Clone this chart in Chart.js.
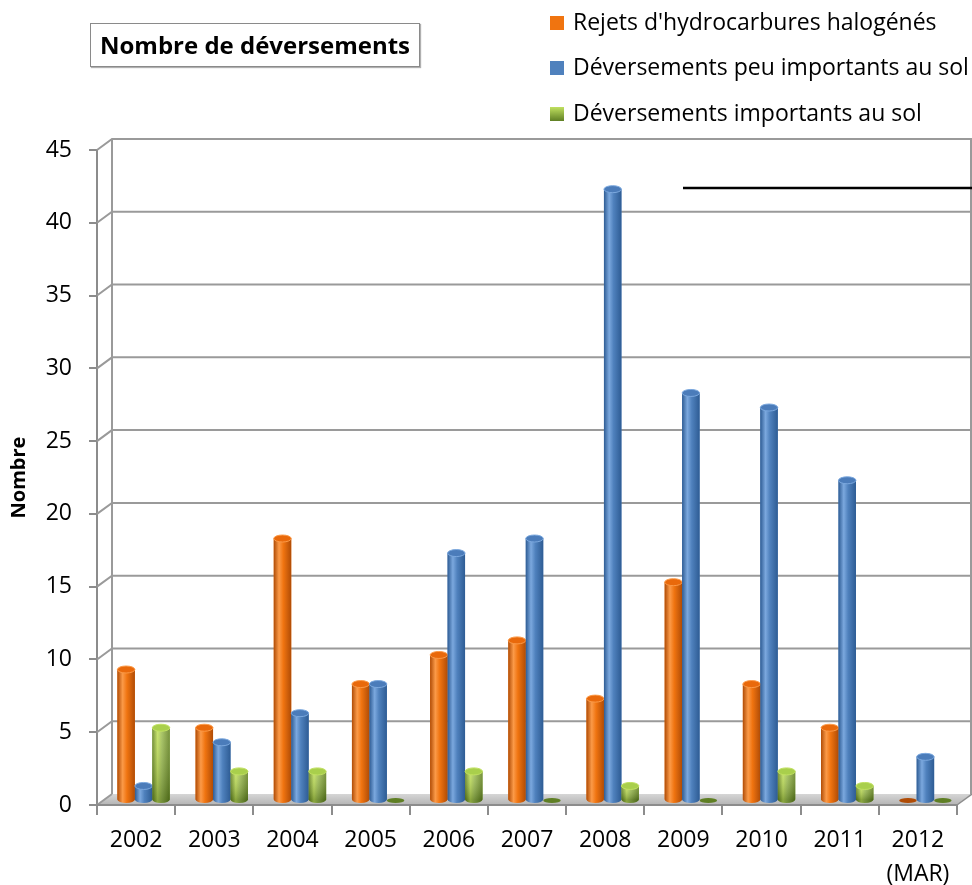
<!DOCTYPE html>
<html>
<head>
<meta charset="utf-8">
<title>Nombre de déversements</title>
<script src="https://cdn.jsdelivr.net/npm/chart.js@4.4.1/dist/chart.umd.min.js"></script>
<style>
  html, body { margin: 0; padding: 0; background: #fff; }
  #wrap { position: relative; width: 972px; height: 885px; font-family: "Open Sans", sans-serif; overflow: hidden; }
  #graph { position: absolute; left: 0; top: 0; }
  #titre {
    position: absolute; left: 90px; top: 23px; width: 328px; height: 42px;
    border: 1.5px solid #8a8a8a; box-shadow: 1px 1px 1px #b0b0b0;
    font-weight: bold; font-size: 24px; line-height: 42px; text-align: center; color: #000;
  }
  .voce { position: absolute; left: 550px; height: 30px; line-height: 30px; font-size: 23px; white-space: nowrap; color: #000; }
  .voce span { display: inline-block; width: 14px; height: 14px; margin-right: 9px; vertical-align: 0px; }
</style>
</head>
<body>
<div id="wrap">
  <canvas id="graph" width="972" height="885"></canvas>
  <div id="titre">Nombre de déversements</div>
  <div id="legende"></div>
</div>
<script>
// annees (la derniere jusqu'en mars)
var annees = ["2002", "2003", "2004", "2005", "2006", "2007", "2008", "2009", "2010", "2011", ["2012", "(MAR)"]];

// nombre de deversements par type
var rejetsHalogenes = [9, 5, 18, 8, 10, 11, 7, 15, 8, 5, 0];
var deversementsPeuImportants = [1, 4, 6, 8, 17, 18, 42, 28, 27, 22, 3];
var deversementsImportants = [5, 2, 2, 0, 2, 0, 1, 0, 2, 1, 0];

var nomsSeries = [
  "Rejets d'hydrocarbures halogénés",
  "Déversements peu importants au sol",
  "Déversements importants au sol"
];

var yMax = 45;
var yPas = 5;

// couleurs des cylindres : base, sombre, clair, dessus
var palettes = [
  { base: "#f07410", sombre: "#b04c06", clair: "#fb9a48", dessus: "#e9690b" },
  { base: "#4f81bd", sombre: "#2e5c94", clair: "#7ba8de", dessus: "#4b7cba" },
  { base: "#9bbb59", sombre: "#5f7f24", clair: "#c0e060", dessus: "#a9cf4c" }
];

// profondeur de la boite 3D
var profX = 15;
var profY = -11;
var grisAxe = "#8c8c8c";
var police = "'Open Sans'";

function dessinerCylindre(ctx, x, haut, bas, w, pal, vert) {
  var g = w / 2;
  var ry = 3.5;
  if (bas - haut < 0.5) {
    ctx.fillStyle = pal.sombre;
    ctx.beginPath();
    ctx.ellipse(x, bas, g, ry - 1, 0, 0, Math.PI * 2);
    ctx.fill();
    return;
  }
  var grad = ctx.createLinearGradient(x - g, 0, x + g, 0);
  grad.addColorStop(0, pal.sombre);
  grad.addColorStop(0.3, pal.clair);
  grad.addColorStop(0.55, pal.base);
  grad.addColorStop(1, pal.sombre);
  ctx.fillStyle = grad;
  ctx.beginPath();
  ctx.moveTo(x - g, haut);
  ctx.lineTo(x - g, bas);
  ctx.ellipse(x, bas, g, ry, 0, Math.PI, 0, true);
  ctx.lineTo(x + g, haut);
  ctx.closePath();
  ctx.fill();
  if (vert) {
    // les verts s'assombrissent vers le bas
    var gv = ctx.createLinearGradient(0, haut, 0, bas);
    gv.addColorStop(0, "rgba(255,255,200,0.15)");
    gv.addColorStop(1, "rgba(40,60,0,0.35)");
    ctx.fillStyle = gv;
    ctx.fill();
  }
  ctx.fillStyle = pal.dessus;
  ctx.strokeStyle = pal.clair;
  ctx.lineWidth = 1;
  ctx.beginPath();
  ctx.ellipse(x, haut, g, ry, 0, 0, Math.PI * 2);
  ctx.fill();
  ctx.stroke();
}

var boite3d = {
  id: "boite3d",
  beforeDatasetsDraw: function(chart) {
    var ctx = chart.ctx;
    var a = chart.chartArea;
    var yScale = chart.scales.y;
    ctx.save();
    // sol
    var sol = ctx.createLinearGradient(0, a.bottom + profY, 0, a.bottom);
    sol.addColorStop(0, "#d6d6d6");
    sol.addColorStop(1, "#b4b4b4");
    ctx.fillStyle = sol;
    ctx.beginPath();
    ctx.moveTo(a.left, a.bottom);
    ctx.lineTo(a.right, a.bottom);
    ctx.lineTo(a.right + profX, a.bottom + profY);
    ctx.lineTo(a.left + profX, a.bottom + profY);
    ctx.closePath();
    ctx.fill();
    ctx.strokeStyle = grisAxe;
    ctx.lineWidth = 1.5;
    ctx.beginPath();
    ctx.moveTo(a.right, a.bottom);
    ctx.lineTo(a.right + profX, a.bottom + profY);
    ctx.stroke();
    // quadrillage du mur du fond
    ctx.strokeStyle = "#9a9a9a";
    ctx.lineWidth = 2;
    ctx.beginPath();
    for (var v = 0; v <= yMax; v += yPas) {
      var yp = yScale.getPixelForValue(v);
      ctx.moveTo(a.left, yp);
      ctx.lineTo(a.left + profX, yp + profY);
      if (v > 0) ctx.lineTo(a.right + profX, yp + profY);
    }
    ctx.moveTo(a.left + profX, a.top + profY);
    ctx.lineTo(a.left + profX, a.bottom + profY);
    ctx.moveTo(a.right + profX - 1, a.top + profY);
    ctx.lineTo(a.right + profX - 1, a.bottom + profY);
    ctx.stroke();
    ctx.strokeStyle = grisAxe;
    ctx.beginPath();
    ctx.moveTo(a.left, a.bottom);
    ctx.lineTo(a.right, a.bottom);
    ctx.stroke();
    ctx.restore();
    // barres au milieu de la profondeur
    ctx.save();
    ctx.translate(profX / 2, profY / 2 + 1);
  },
  afterDatasetsDraw: function(chart) {
    var ctx = chart.ctx;
    chart.data.datasets.forEach(function(ds, i) {
      var meta = chart.getDatasetMeta(i);
      meta.data.forEach(function(bar) {
        var p = bar.getProps(["x", "y", "base", "width"], true);
        dessinerCylindre(ctx, p.x, p.y, p.base, p.width, palettes[i], i === 2);
      });
    });
    ctx.restore();
  },
  afterDraw: function(chart) {
    // trait noir en haut a droite
    var ctx = chart.ctx;
    ctx.save();
    ctx.strokeStyle = "#000";
    ctx.lineWidth = 2.5;
    ctx.beginPath();
    ctx.moveTo(683, 188);
    ctx.lineTo(chart.width, 188);
    ctx.stroke();
    ctx.restore();
  }
};

var series = [rejetsHalogenes, deversementsPeuImportants, deversementsImportants];

var ctxGraph = document.getElementById("graph");
var graphique = new Chart(ctxGraph, {
  type: "bar",
  data: {
    labels: annees,
    datasets: series.map(function(valeurs, i) {
      return {
        label: nomsSeries[i],
        data: valeurs,
        backgroundColor: palettes[i].base,
        borderWidth: 0,
        categoryPercentage: 0.67,
        barPercentage: 1.0
      };
    })
  },
  options: {
    responsive: false,
    animation: false,
    layout: { padding: { top: 150, right: 15, left: 0, bottom: 0 } },
    plugins: {
      legend: { display: false },
      title: { display: false },
      tooltip: { enabled: false }
    },
    scales: {
      x: {
        afterFit: function(scale) { scale.height = 80; },
        grid: { drawOnChartArea: false, drawTicks: true, tickLength: 10, color: grisAxe, lineWidth: 2, offset: true },
        border: { display: true, color: grisAxe, width: 2 },
        ticks: {
          color: "#000",
          padding: 9,
          maxRotation: 0,
          font: { family: police, size: 23, lineHeight: 1.45 }
        }
      },
      y: {
        min: 0,
        max: yMax,
        afterFit: function(scale) { scale.width = 97; },
        grid: { drawOnChartArea: false, drawTicks: true, tickLength: 8, color: grisAxe, lineWidth: 2 },
        border: { display: true, color: grisAxe, width: 2 },
        ticks: {
          stepSize: yPas,
          color: "#000",
          padding: 17,
          font: { family: police, size: 23 }
        },
        title: {
          display: true,
          text: "Nombre",
          color: "#000",
          padding: { top: 7, bottom: 0 },
          font: { family: police, size: 20, weight: "bold" }
        }
      }
    }
  },
  plugins: [boite3d]
});

// legende sur trois lignes
var legende = document.getElementById("legende");
var hautsLignes = [6, 51, 97];
graphique.data.datasets.forEach(function(ds, i) {
  var voce = document.createElement("div");
  voce.className = "voce";
  voce.style.top = hautsLignes[i] + "px";
  var carre = document.createElement("span");
  carre.style.background = i === 2
    ? "linear-gradient(" + palettes[i].clair + ", " + palettes[i].sombre + ")"
    : palettes[i].base;
  voce.appendChild(carre);
  voce.appendChild(document.createTextNode(ds.label));
  legende.appendChild(voce);
});
</script>
</body>
</html>
